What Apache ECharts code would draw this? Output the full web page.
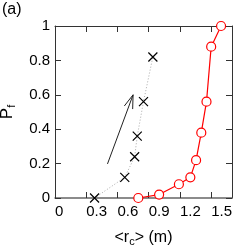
<!DOCTYPE html>
<html><head><meta charset="utf-8">
<script src="https://cdn.jsdelivr.net/npm/echarts@6/dist/echarts.min.js"></script>
<style>html,body{margin:0;padding:0;background:#fff}#c{width:245px;height:245px}</style>
</head><body><div id="c"></div>
<script>
const blackX = [0.38, 0.67, 0.765, 0.79, 0.85, 0.94];
const blackY = [0, 0.12, 0.24, 0.36, 0.56, 0.82];
const redX = [0.80, 1.0, 1.19, 1.30, 1.355, 1.405, 1.455, 1.50, 1.595];
const redY = [0, 0.02, 0.08, 0.12, 0.22, 0.38, 0.56, 0.88, 1.0];
const arrowShaftX = [0.504, 0.75];
const arrowShaftY = [0.198, 0.60];
const arrowHeadX = [0.666, 0.75, 0.746];
const arrowHeadY = [0.535, 0.60, 0.517];
const xTicks = {min: 0, max: 1.7, interval: 0.3};
const yTicks = {min: 0, max: 1, interval: 0.2};

const zip = (a, b) => a.map((v, i) => [v, b[i]]);
const font = '"Liberation Sans", Arial, Helvetica, sans-serif';
const axisCol = '#333';

const chart = echarts.init(document.getElementById('c'), null, {renderer: 'canvas'});
chart.setOption({
  animation: false,
  backgroundColor: '#fff',
  graphic: [{type: 'text', left: 2, top: 2, style: {text: '(a)', fontSize: 16, fontFamily: font, fill: '#000'}}],
  grid: {left: 55, right: 13, top: 26, bottom: 47, containLabel: false, outerBoundsMode: 'none'},
  xAxis: [{
    type: 'value', min: xTicks.min, max: xTicks.max, interval: xTicks.interval,
    position: 'bottom',
    axisLine: {show: true, onZero: false, lineStyle: {color: '#666', width: 1.5}},
    axisTick: {show: true, inside: true, length: 6, lineStyle: {color: axisCol}},
    splitLine: {show: false},
    axisLabel: {show: true, align: 'left', margin: 6, fontSize: 15, fontFamily: font, color: '#000',
      showMaxLabel: false,
      formatter: v => (Math.round(v * 10) / 10).toString()},
    name: '<{r|r}{s|c}> (m)', nameLocation: 'middle', nameGap: 30,
    nameTextStyle: {fontSize: 16, fontFamily: font, color: '#000',
      rich: {r: {fontSize: 16, fontFamily: font, color: '#000'},
             s: {fontSize: 11, fontFamily: font, color: '#000', verticalAlign: 'bottom', padding: [8, 0, 0, 0]}}}
  }, {
    type: 'value', min: xTicks.min, max: xTicks.max, interval: xTicks.interval,
    position: 'top',
    axisLine: {show: true, onZero: false, lineStyle: {color: axisCol, width: 1}},
    axisTick: {show: true, inside: true, length: 6, lineStyle: {color: axisCol}},
    splitLine: {show: false}, axisLabel: {show: false}
  }],
  yAxis: [{
    type: 'value', min: yTicks.min, max: yTicks.max, interval: yTicks.interval,
    position: 'left',
    axisLine: {show: true, onZero: false, lineStyle: {color: axisCol, width: 1}},
    axisTick: {show: true, inside: true, length: 6, lineStyle: {color: axisCol}},
    splitLine: {show: false},
    axisLabel: {margin: 5, fontSize: 15, fontFamily: font, color: '#000',
      formatter: v => (Math.round(v * 10) / 10).toString()},
    name: '{p|P}{s|f}', nameLocation: 'middle', nameGap: 38, nameRotate: 90,
    nameTextStyle: {fontSize: 17, fontFamily: font, color: '#000',
      rich: {p: {fontSize: 17, fontFamily: font, color: '#000'},
             s: {fontSize: 11, fontFamily: font, color: '#000', verticalAlign: 'bottom', padding: [8, 0, 0, 0]}}}
  }, {
    type: 'value', min: yTicks.min, max: yTicks.max, interval: yTicks.interval,
    position: 'right',
    axisLine: {show: true, onZero: false, lineStyle: {color: axisCol, width: 1}},
    axisTick: {show: true, inside: true, length: 6, lineStyle: {color: axisCol}},
    splitLine: {show: false}, axisLabel: {show: false}
  }],
  series: [{
    type: 'line', xAxisIndex: 0, yAxisIndex: 0, clip: false,
    data: zip(blackX, blackY),
    lineStyle: {color: '#aaa', width: 1, type: [1, 2]},
    symbol: 'path://M0,0L10,10M10,0L0,10', symbolSize: 9,
    itemStyle: {color: 'rgba(0,0,0,0)', borderColor: '#000', borderWidth: 1.2}
  }, {
    type: 'line', xAxisIndex: 0, yAxisIndex: 0, clip: false,
    data: zip(redX, redY),
    lineStyle: {color: '#ff0000', width: 1.2},
    symbol: 'circle', symbolSize: 9,
    itemStyle: {color: '#fff', borderColor: '#ff0000', borderWidth: 1.2}
  }, {
    type: 'line', xAxisIndex: 0, yAxisIndex: 0, clip: false, symbol: 'none',
    data: zip(arrowShaftX, arrowShaftY),
    lineStyle: {color: '#222', width: 1}
  }, {
    type: 'line', xAxisIndex: 0, yAxisIndex: 0, clip: false, symbol: 'none',
    data: zip(arrowHeadX, arrowHeadY),
    lineStyle: {color: '#222', width: 1}
  }]
});
</script></body></html>
